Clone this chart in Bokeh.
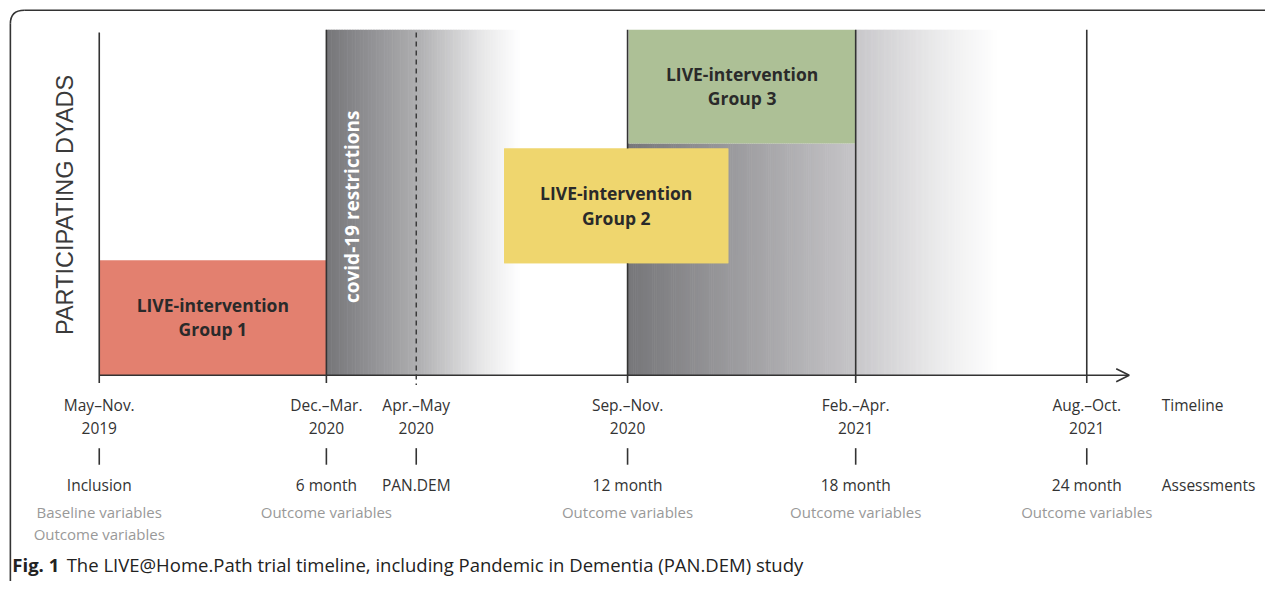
from bokeh.plotting import figure
from bokeh.models import Range1d, ColumnDataSource, Arrow, OpenHead
from bokeh.core.properties import value
from bokeh.embed import file_html
from bokeh.resources import INLINE
import math

# ---- data (schematic timeline) ----
period_x = [100, 330, 421, 635, 866, 1100]
period_line1 = ["May\u2013Nov.", "Dec.\u2013Mar.", "Apr.\u2013May", "Sep.\u2013Nov.", "Feb.\u2013Apr.", "Aug.\u2013Oct."]
period_line2 = ["2019", "2020", "2020", "2020", "2021", "2021"]
assessments = ["Inclusion", "6 month", "PAN.DEM", "12 month", "18 month", "24 month"]
variables_line1 = ["Baseline variables", "Outcome variables", "", "Outcome variables", "Outcome variables", "Outcome variables"]
variables_line2 = ["Outcome variables", "", "", "", "", ""]

group_names = ["Group 1", "Group 2", "Group 3"]
group_left = [100, 510, 636]
group_right = [330, 737, 866]
group_top = [267, 152, 30]
group_bottom = [385, 270, 147]
group_colors = ["#e3806f", "#efd66e", "#adc096"]

FONT = value("Open Sans")
DARK = "#333333"

p = figure(width=1265, height=581, x_range=Range1d(0, 1281), y_range=Range1d(597, 0),
           output_backend="svg", toolbar_location=None, min_border=0)
p.axis.visible = False
p.grid.visible = False
p.outline_line_color = None
p.background_fill_color = "white"
p.border_fill_color = "white"

# rounded frame
p.segment(x0=[24], y0=[10], x1=[1281], y1=[10], line_color=DARK, line_width=1.6)
p.segment(x0=[10], y0=[24], x1=[10], y1=[597], line_color=DARK, line_width=1.6)
p.quadratic(x0=[10], y0=[24], x1=[24], y1=[10], cx=[10], cy=[10], line_color=DARK, line_width=1.6)

def hexrgb(h):
    h = h.lstrip("#")
    return tuple(int(h[i:i + 2], 16) for i in (0, 2, 4))

def gradient(x0, x1, top, bottom, stops, n=120):
    L, R, T, B, C = [], [], [], [], []
    w = (x1 - x0) / n
    for i in range(n):
        t = (i + 0.5) / n
        for (ta, ca), (tb, cb) in zip(stops[:-1], stops[1:]):
            if ta <= t <= tb:
                f = (t - ta) / (tb - ta)
                a, b = hexrgb(ca), hexrgb(cb)
                c = tuple(round(a[k] + (b[k] - a[k]) * f) for k in range(3))
                break
        L.append(x0 + i * w); R.append(x0 + (i + 1) * w + 0.6)
        T.append(top); B.append(bottom)
        C.append("#%02x%02x%02x" % c)
    p.quad(left=L, right=R, top=T, bottom=B, fill_color=C, line_color=None)

# shaded covid periods
gradient(330, 525, 30, 385, [(0, "#767679"), (0.47, "#aeaeb0"), (0.8, "#e6e6e7"), (1, "#ffffff")])
gradient(635, 866, 147, 385, [(0, "#767679"), (1, "#c6c5c8")])
gradient(866, 1010, 30, 385, [(0, "#c8c7ca"), (0.6, "#ececed"), (1, "#ffffff")])

# intervention boxes
src = ColumnDataSource(dict(left=group_left, right=group_right, top=group_top, bottom=group_bottom,
                            color=group_colors))
p.quad(left="left", right="right", top="top", bottom="bottom", fill_color="color", line_color=None, source=src)

# vertical lines
solid_x = [period_x[i] for i in (1, 3, 4, 5)]
p.segment(x0=solid_x, y0=[30] * 4, x1=solid_x, y1=[393] * 4, line_color=DARK, line_width=1.6)
p.segment(x0=[period_x[0]], y0=[33], x1=[period_x[0]], y1=[393], line_color=DARK, line_width=1.6)
p.segment(x0=[period_x[2]], y0=[33], x1=[period_x[2]], y1=[395], line_color=DARK, line_width=1.4,
          line_dash="5 4")
# timeline axis with arrow
p.add_layout(Arrow(end=OpenHead(size=13, line_color=DARK, line_width=1.6), x_start=100, y_start=385,
                   x_end=1143, y_end=385, line_color=DARK, line_width=1.6))

# group 2 lies over the 12-month line
g = 1
p.quad(left=[group_left[g]], right=[group_right[g]], top=[group_top[g]], bottom=[group_bottom[g]],
       fill_color=group_colors[g], line_color=None)

cx = [(a + b) / 2 for a, b in zip(group_left, group_right)]
cy = [(a + b) / 2 for a, b in zip(group_top, group_bottom)]
p.text(x=cx, y=[c - 13 for c in cy], text=["LIVE-intervention"] * 3, text_font=FONT, text_font_style="bold",
       text_font_size="17.5px", text_color="#2a2a2a", text_align="center", text_baseline="middle")
p.text(x=cx, y=[c + 12 for c in cy], text=group_names, text_font=FONT, text_font_style="bold",
       text_font_size="17.5px", text_color="#2a2a2a", text_align="center", text_baseline="middle")

# covid label
p.text(x=[356], y=[212], text=["covid-19 restrictions"], angle=math.pi / 2, text_font=FONT,
       text_font_style="bold", text_font_size="19px", text_color="white", text_align="center",
       text_baseline="middle")

# y label
p.text(x=[65], y=[210], text=["PARTICIPATING DYADS"], angle=math.pi / 2, text_font=value("Liberation Sans"),
       text_font_size="23.5px", text_color="#3a3a3a", text_align="center", text_baseline="middle")

# timeline labels
n = len(period_x)
p.text(x=period_x, y=[416] * n, text=period_line1, text_font=FONT, text_font_size="15.5px", text_color=DARK,
       text_align="center", text_baseline="middle")
p.text(x=period_x, y=[439] * n, text=period_line2, text_font=FONT, text_font_size="15.5px", text_color=DARK,
       text_align="center", text_baseline="middle")
p.segment(x0=period_x, y0=[460] * n, x1=period_x, y1=[477] * n, line_color=DARK, line_width=1.6)
p.text(x=period_x, y=[498] * n, text=assessments, text_font=FONT, text_font_size="15.5px", text_color=DARK,
       text_align="center", text_baseline="middle")
p.text(x=period_x, y=[526] * n, text=variables_line1, text_font=FONT, text_font_size="15px", text_color="#999999",
       text_align="center", text_baseline="middle")
p.text(x=period_x, y=[548] * n, text=variables_line2, text_font=FONT, text_font_size="15px", text_color="#999999",
       text_align="center", text_baseline="middle")
p.text(x=[1176, 1176], y=[416, 498], text=["Timeline", "Assessments"], text_font=FONT, text_font_size="15.5px",
       text_color=DARK, text_align="left", text_baseline="middle")

# caption
p.text(x=[12], y=[580], text=["Fig. 1"], text_font=FONT, text_font_style="bold", text_font_size="18.5px",
       text_color="#222222", text_align="left", text_baseline="middle")
p.text(x=[67], y=[580], text=["The LIVE@Home.Path trial timeline, including Pandemic in Dementia (PAN.DEM) study"],
       text_font=FONT, text_font_size="18.5px", text_color="#222222", text_align="left", text_baseline="middle")

open("out.html", "w").write(file_html(p, INLINE))
